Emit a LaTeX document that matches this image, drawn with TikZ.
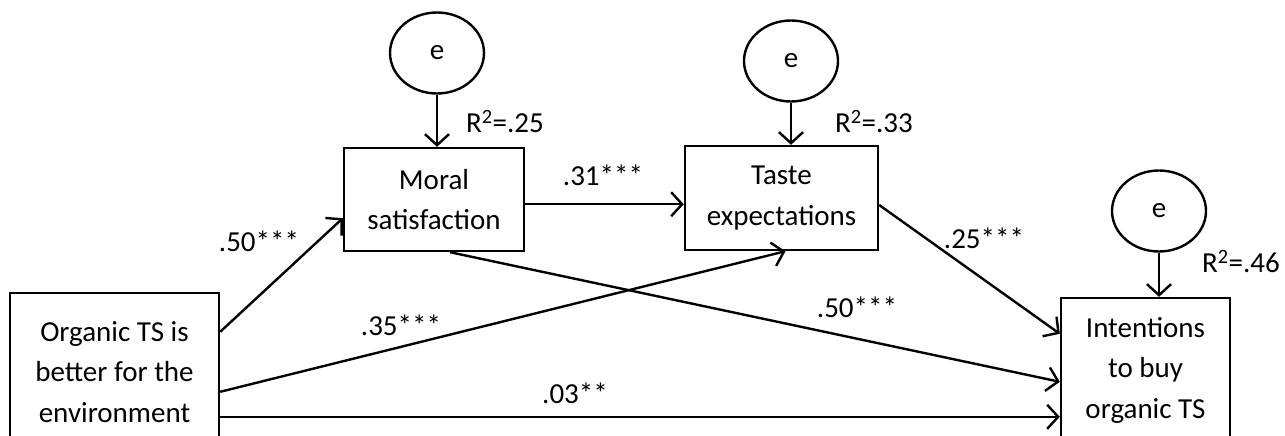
\documentclass[tikz,border=0pt]{standalone}
\usepackage{fontspec}
\setmainfont{Carlito}
\usetikzlibrary{arrows.meta,calc,shapes.geometric}
\tikzset{
  box/.style={draw,line width=2.4pt,align=center,inner sep=0pt,font=\fontsize{29}{40.5}\selectfont},
  err/.style={draw,ellipse,line width=2.4pt,minimum width=94pt,minimum height=81pt,inner sep=0pt,font=\fontsize{29}{35}\selectfont},
  conn/.style={line width=2.4pt,-{Straight Barb[length=11pt,width=24pt,line width=2.4pt]}},
  lab/.style={inner sep=0pt,font=\fontsize{29}{35}\selectfont}
}
\begin{document}
\begin{tikzpicture}[x=1pt,y=-1pt]
\useasboundingbox (0,0) rectangle (1285,436);
% boxes
\node[box,minimum width=209pt,minimum height=158pt] (org) at (114.5,372) {Organic TS is\\better for the\\environment};
\node[box,minimum width=180pt,minimum height=103pt] (moral) at (434,199.5) {Moral\\satisfaction};
\node[box,minimum width=193pt,minimum height=104pt] (taste) at (781.5,198) {Taste\\expectations};
\node[box,minimum width=169pt,minimum height=144pt] (intent) at (1145.5,370) {Intentions\\to buy\\organic TS};
% error terms
\node[err] (e1) at (437,53) {e};
\node[err] (e2) at (791,61) {e};
\node[err] (e3) at (1159,211) {e};
% error arrows
\draw[conn] (e1.south) -- (e1.south |- moral.north);
\draw[conn] (e2.south) -- (e2.south |- taste.north);
\draw[conn] (e3.south) -- (e3.south |- intent.north);
% paths
\coordinate (o1) at ($(org.north east)+(0,40)$);
\coordinate (o2) at ($(org.north east)+(0,100)$);
\coordinate (o3) at ($(org.north east)+(0,125)$);
\draw[conn] (o1) -- ($(moral.south west)+(0,-34)$);
\draw[conn] ($(moral.south east)+(0,-48)$) -- ($(taste.south west)+(0,-47)$);
\draw[conn] (o2) -- ($(taste.south)+(4,0)$);
\draw[conn] ($(moral.south)+(16,0)$) -- ($(intent.north west)+(0,85)$);
\draw[conn] ($(taste.east)+(0,7)$) -- ($(intent.north west)+(0,37)$);
\draw[conn] (o3) -- (o3 -| intent.west);
% labels
\node[lab] (l1) at (259,241) {.50***};
\node[lab] (l2) at (603,175) {.31***};
\node[lab] (l3) at (401,325) {.35***};
\node[lab] (l4) at (857,307) {.50***};
\node[lab] (l5) at (984,238) {.25***};
\node[lab] (l6) at (575,393) {.03**};
\node[lab] (r1) at (505,122) {R\textsuperscript{2}=.25};
\node[lab] (r2) at (874,122) {R\textsuperscript{2}=.33};
\node[lab] (r3) at (1241,262) {R\textsuperscript{2}=.46};
\end{tikzpicture}
\end{document}
